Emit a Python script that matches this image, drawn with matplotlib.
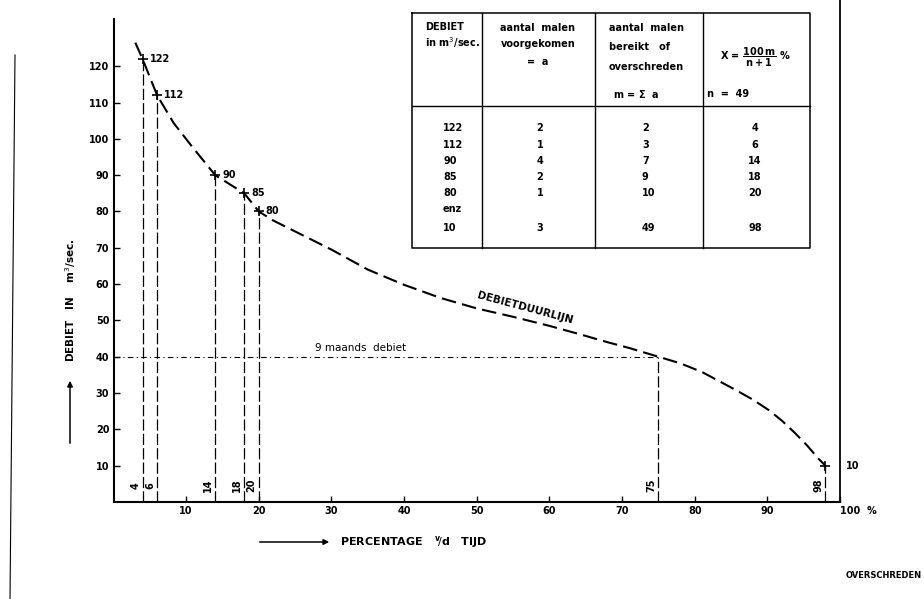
import matplotlib
matplotlib.use("Agg")
import matplotlib.pyplot as plt

plt.rcParams['font.family'] = ['DejaVu Sans']

curve_pct = [3.0, 4, 6, 8.3, 10.8, 14, 18, 20, 22, 26, 30, 35, 40, 45, 50, 55, 60, 64, 68, 71,
             75, 78, 81, 85.5, 88, 90.2, 92, 93.8, 95.5, 97, 98]
curve_q = [126.5, 122, 112, 104.3, 97.9, 90, 85, 80, 77.5, 73.5, 69.5, 64, 59.8, 56.2, 53.3, 51,
           48.5, 46.3, 44, 42.4, 40, 38.2, 35.8, 31, 28.2, 25.3, 22.4, 19, 15.5, 12, 10]

# gemeten punten uit de tabel
point_q = [122, 112, 90, 85, 80, 10]
point_pct = [4, 6, 14, 18, 20, 98]

# 9 maands debiet
q9 = 40
pct9 = 75

# tabel
tab_debiet = ["122", "112", "90", "85", "80", "enz", "10"]
tab_a = ["2", "1", "4", "2", "1", "", "3"]
tab_m = ["2", "3", "7", "9", "10", "", "49"]
tab_x = ["4", "6", "14", "18", "20", "", "98"]

yticks = [10, 20, 30, 40, 50, 60, 70, 80, 90, 100, 110, 120]
xticks = [10, 20, 30, 40, 50, 60, 70, 80, 90, 100]
xticklabels = ["10", "20", "30", "40", "50", "60", "70", "80", "90", "100  %"]

W, H = 924, 599
fig = plt.figure(figsize=(W / 100, H / 100), dpi=100)
ax = fig.add_axes([113.5 / W, 1 - 502 / H, (840 - 113.5) / W, (502 - 19) / H])
ax.set_xlim(0, 100)
ax.set_ylim(0, 133)
ax.patch.set_visible(False)

# overlay in pixel coordinates for the table and loose labels
ov = fig.add_axes([0, 0, 1, 1], zorder=3)
ov.set_xlim(0, W)
ov.set_ylim(H, 0)
ov.axis("off")
ov.patch.set_visible(False)

fw = "bold"
ax.plot(curve_pct, curve_q, color="black", lw=1.5, dashes=(7, 3))
ax.plot(point_pct, point_q, "+", color="black", ms=7, mew=1.2)

for p, q in zip(point_pct, point_q):
    ax.plot([p, p], [0, q], color="black", lw=0.9, dashes=(9, 2.5))
    ax.annotate(str(p), (p, 4.5), xytext=(-1.5, 0), textcoords="offset points",
                rotation=90, ha="right", va="center", fontsize=7, fontweight=fw)

for p, q in zip(point_pct[:-1], point_q[:-1]):
    ax.annotate(str(q), (p, q), xytext=(5, 0), textcoords="offset points",
                ha="left", va="center", fontsize=7, fontweight=fw)
# label of the last point sits beyond the right border
ax.annotate(str(point_q[-1]), (100, point_q[-1]), xytext=(4, 0), textcoords="offset points",
            ha="left", va="center", fontsize=7, fontweight=fw, annotation_clip=False)

# 9 maands debiet
ax.plot([0, pct9], [q9, q9], color="black", lw=0.8, dashes=(5, 3, 1, 3))
ax.plot([pct9, pct9], [0, q9], color="black", lw=0.9, dashes=(9, 2.5))
ax.annotate(str(pct9), (pct9, 4.5), xytext=(-1.5, 0), textcoords="offset points",
            rotation=90, ha="right", va="center", fontsize=7, fontweight=fw)
ax.text(34, q9 + 1, "9 maands  debiet", ha="center", va="bottom", fontsize=7.5)

ax.text(56.5, 52, "DEBIETDUURLIJN", rotation=-15, ha="center", va="bottom",
        fontsize=7.5, fontweight=fw, rotation_mode="anchor")

# axes
for s in ["top", "right"]:
    ax.spines[s].set_visible(False)
for s in ["left", "bottom"]:
    ax.spines[s].set_linewidth(1.5)
ax.plot([100, 100], [0, 139], color="black", lw=1.3, clip_on=False)
ax.set_yticks(yticks)
ax.set_xticks(xticks)
ax.set_xticklabels(xticklabels)
ax.tick_params(direction="in", length=4, width=1, labelsize=7, pad=3)
for lab in ax.get_xticklabels() + ax.get_yticklabels():
    lab.set_fontweight(fw)
ax.get_xticklabels()[-1].set_horizontalalignment("left")
ax.get_xticklabels()[-1].set_x(98.3)

# axis titles with arrows
ov.annotate("", xy=(70, 378), xytext=(70, 446),
            arrowprops=dict(arrowstyle="-|>", color="black", lw=1.1, mutation_scale=8))
ov.text(71, 300, r"DEBIET   IN    m$^3$/sec.", rotation=90, ha="center", va="center",
        fontsize=7.5, fontweight=fw)
ov.annotate("", xy=(332, 542), xytext=(257, 542),
            arrowprops=dict(arrowstyle="-|>", color="black", lw=1.1, mutation_scale=8))
ov.text(340, 542, r"PERCENTAGE   $^{\mathbf{v}}\!/\mathbf{d}$   TIJD", ha="left", va="center",
        fontsize=8, fontweight=fw)
ov.text(922, 576, "OVERSCHREDEN", ha="right", va="center", fontsize=6, fontweight=fw)

# page edge
ov.plot([15, 10], [55, 599], color="black", lw=0.8)

# table
tl, tr, tt, tb = 412, 810, 13, 248
cols = [482, 595, 703]
ov.plot([tl, tr, tr, tl, tl], [tt, tt, tb, tb, tt], color="black", lw=1.1)
for c in cols:
    ov.plot([c, c], [tt, tb], color="black", lw=1.0)
ov.plot([tl, tr], [106, 106], color="black", lw=1.0)

ts = 7
ov.text(425, 27, "DEBIET", fontsize=ts, fontweight=fw, va="center")
ov.text(425, 43, r"in m$^3$/sec.", fontsize=ts, fontweight=fw, va="center")
ov.text(538, 28, "aantal  malen", fontsize=ts, fontweight=fw, va="center", ha="center")
ov.text(538, 44, "voorgekomen", fontsize=ts, fontweight=fw, va="center", ha="center")
ov.text(538, 62, "=  a", fontsize=ts, fontweight=fw, va="center", ha="center")
ov.text(609, 28, "aantal  malen", fontsize=ts, fontweight=fw, va="center")
ov.text(609, 47, "bereikt   of", fontsize=ts, fontweight=fw, va="center")
ov.text(609, 67, "overschreden", fontsize=ts, fontweight=fw, va="center")
ov.text(613, 94, r"m = $\mathbf{\Sigma}$  a", fontsize=ts, fontweight=fw, va="center")
ov.text(755, 57, r"X = $\dfrac{\mathbf{100\,m}}{\mathbf{n+1}}$ %", fontsize=ts,
        fontweight=fw, va="center", ha="center")
ov.text(707, 94, "n  =  49", fontsize=ts, fontweight=fw, va="center")

row_y = [128, 145, 161, 177, 193, 209, 228]
for y, d, a, m, x in zip(row_y, tab_debiet, tab_a, tab_m, tab_x):
    ov.text(443, y, d, fontsize=ts, fontweight=fw, va="center")
    ov.text(540, y, a, fontsize=ts, fontweight=fw, va="center", ha="center")
    ov.text(642, y, m, fontsize=ts, fontweight=fw, va="center")
    ov.text(755, y, x, fontsize=ts, fontweight=fw, va="center", ha="center")

fig.savefig("out.png", dpi=100)
